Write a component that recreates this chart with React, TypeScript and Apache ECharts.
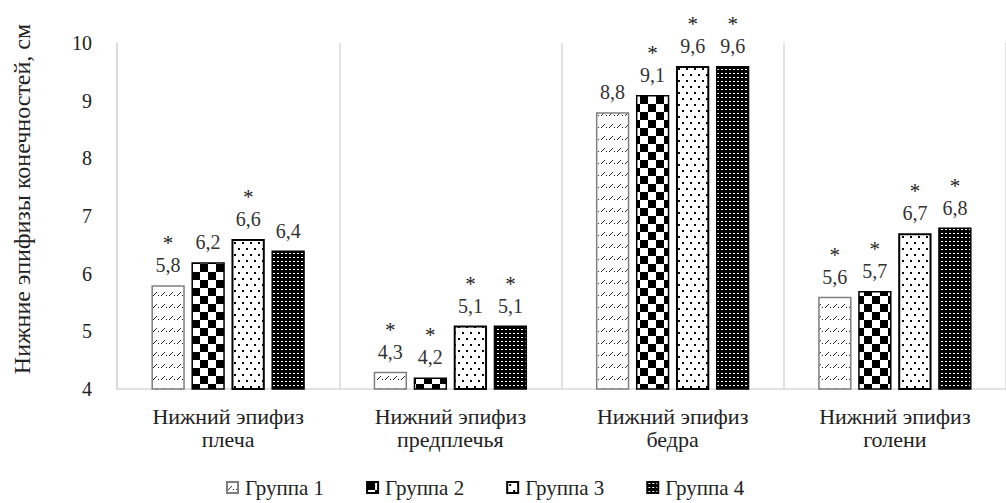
import React, { useEffect, useRef } from "react";
import * as echarts from "echarts";

const categories = [
  "Нижний эпифиз\nплеча",
  "Нижний эпифиз\nпредплечья",
  "Нижний эпифиз\nбедра",
  "Нижний эпифиз\nголени",
];
const seriesNames = ["Группа 1", "Группа 2", "Группа 3", "Группа 4"];
const group1 = [5.8, 4.3, 8.8, 5.6];
const group2 = [6.2, 4.2, 9.1, 5.7];
const group3 = [6.6, 5.1, 9.6, 6.7];
const group4 = [6.4, 5.1, 9.6, 6.8];
const stars1 = [true, true, false, true];
const stars2 = [false, true, true, true];
const stars3 = [true, true, true, true];
const stars4 = [false, true, true, true];
const yTicks = [4, 5, 6, 7, 8, 9, 10];
const yTitle = "Нижние эпифизы конечностей, см";

const FONT = "'Liberation Serif', 'Times New Roman', serif";

function makeCanvas(w: number, h: number, draw: (c: CanvasRenderingContext2D) => void) {
  const cv = document.createElement("canvas");
  cv.width = w;
  cv.height = h;
  const ctx = cv.getContext("2d")!;
  draw(ctx);
  return cv;
}

export default function App() {
  const ref = useRef<HTMLDivElement>(null);
  useEffect(() => {
    if (!ref.current) return;
    const chart = echarts.init(ref.current, undefined, { renderer: "svg" });

    const p1 = makeCanvas(8, 12, (c) => {
      c.fillStyle = "#fff";
      c.fillRect(0, 0, 8, 12);
      c.strokeStyle = "#333";
      c.lineWidth = 1;
      c.beginPath();
      c.moveTo(1, 8);
      c.lineTo(5, 4);
      c.stroke();
      c.fillStyle = "#222";
      c.fillRect(6, 7, 1, 1);
    });
    const p2 = makeCanvas(16, 16, (c) => {
      c.fillStyle = "#fff";
      c.fillRect(0, 0, 16, 16);
      c.fillStyle = "#000";
      c.fillRect(0, 0, 8, 8);
      c.fillRect(8, 8, 8, 8);
    });
    const p3 = makeCanvas(8, 12, (c) => {
      c.fillStyle = "#fff";
      c.fillRect(0, 0, 8, 12);
      c.fillStyle = "#000";
      c.fillRect(2, 2, 2, 2);
      c.fillRect(6, 8, 2, 2);
    });
    const p4 = makeCanvas(4, 4, (c) => {
      c.fillStyle = "#000";
      c.fillRect(0, 0, 4, 4);
      c.fillStyle = "#fff";
      c.fillRect(1, 1, 2, 1);
    });
    const patterns = [p1, p2, p3, p4];
    const borders = ["#7f7f7f", "#000", "#000", "#000"];
    const values = [group1, group2, group3, group4];
    const stars = [stars1, stars2, stars3, stars4];

    const fmt = (v: number) => v.toFixed(1).replace(".", ",");

    const series = values.map((vals, si) => ({
      name: seriesNames[si],
      type: "bar",
      barGap: "20%",
      barCategoryGap: "31%",
      data: vals.map((v, i) => ({
        value: v,
        label: {
          formatter: stars[si][i] ? `{s|*}\n{v|${fmt(v)}}` : `{v|${fmt(v)}}`,
        },
      })),
      itemStyle: {
        color: { image: patterns[si], repeat: "repeat" },
        borderColor: borders[si],
        borderWidth: si === 2 ? 2 : 1.5,
      },
      label: {
        show: true,
        position: "top",
        distance: 9,
        fontFamily: FONT,
        rich: {
          s: { fontFamily: FONT, fontSize: 21, color: "#222", lineHeight: 22, align: "center" },
          v: { fontFamily: FONT, fontSize: 20, color: "#333", lineHeight: 22, align: "center" },
        },
      },
    }));

    chart.setOption({
      animation: false,
      textStyle: { fontFamily: FONT },
      legend: {
        bottom: 0,
        left: 221,
        itemWidth: 11,
        itemHeight: 11,
        itemGap: 42,
        icon: "rect",
        textStyle: { fontFamily: FONT, fontSize: 21, color: "#222", padding: [0, 0, 0, 2] },
        data: seriesNames,
      },
      grid: { left: 117, top: 43, width: 907, bottom: 114 },
      xAxis: {
        type: "category",
        data: categories,
        axisLine: { lineStyle: { color: "#d9d9d9", width: 1.5 } },
        axisTick: { show: false },
        splitLine: { show: true, lineStyle: { color: "#d9d9d9", width: 1.5 } },
        axisLabel: {
          fontFamily: FONT,
          fontSize: 22,
          color: "#222",
          lineHeight: 23,
          margin: 16,
        },
      },
      yAxis: {
        type: "value",
        min: yTicks[0],
        max: yTicks[yTicks.length - 1],
        interval: 1,
        axisLine: { show: true, lineStyle: { color: "#d9d9d9", width: 1.5 } },
        axisTick: { show: false },
        splitLine: { show: false },
        axisLabel: {
          fontFamily: FONT,
          fontSize: 20,
          color: "#222",
          margin: 25,
        },
      },
      graphic: [
        {
          type: "text",
          x: 22,
          y: 199,
          rotation: Math.PI / 2,
          style: {
            text: yTitle,
            fontFamily: FONT,
            fontSize: 24,
            fill: "#222",
            align: "center",
            verticalAlign: "middle",
          },
        },
      ],
      series,
    });
    return () => chart.dispose();
  }, []);
  return <div ref={ref} style={{ width: 1006, height: 503, position: "absolute", left: 0, top: 0 }} />;
}
